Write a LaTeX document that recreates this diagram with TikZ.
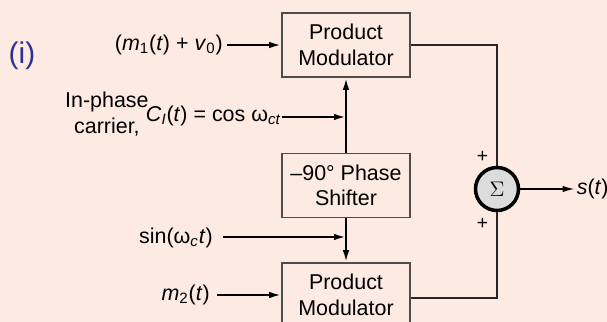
\documentclass[tikz,border=0pt]{standalone}
\usepackage{fontspec}
\setmainfont{Liberation Sans}
\usepackage{tikz}
\usetikzlibrary{arrows.meta,positioning,calc}
\usepackage{xcolor}
\definecolor{bgpink}{HTML}{FCEAE3}
\definecolor{sumgray}{HTML}{DCDCDC}
\definecolor{romblue}{HTML}{2E3192}
\tikzset{
  block/.style   = {draw=black!70, line width=0.9pt, rectangle, minimum height=1.28cm,
                    minimum width=2.56cm, align=center, inner sep=1pt},
  sumnode/.style = {draw, line width=2pt, circle, fill=sumgray, inner sep=0pt, minimum size=0.86cm},
  sig/.style     = {-{Latex[length=2.4mm,width=1.3mm]}, line width=1.2pt},
  wire/.style    = {line width=0.7pt, black!85},
  label/.style   = {inner sep=0pt},
}

\begin{document}
\begin{tikzpicture}[font=\fontsize{12.2}{14.5}\selectfont]
\useasboundingbox[fill=bgpink] (0,0) rectangle (12.14,6.44);
\node[romblue,font=\fontsize{17}{19}\selectfont] (tag) at (0.44,5.32) {(i)};
% blocks
\node[block] (modA) at (6.92,5.54) {Product\\Modulator};
\node[block] (shift) at (6.92,2.73) {–90° Phase\\Shifter};
\node[block] (modB) at (6.92,0.54) {Product\\Modulator};
\node[sumnode] (sum) at (9.94,2.66) {$\Sigma$};
% inputs
\node[label,anchor=east] (msum) at (4.46,5.54) {(\textit{m}\textsubscript{1}(\textit{t}) + \textit{v}\textsubscript{0})};
\node[label,anchor=east] (cosin) at (5.63,4.12) {\textit{C}\textsubscript{\textit{I}}(\textit{t}) = cos ω\textsubscript{\textit{ct}}};
\node[label,anchor=east,align=center] (carrier) at (2.98,4.16) {In-phase\\carrier,};
\node[label,anchor=east] (sinin) at (4.26,1.68) {sin(ω\textsubscript{\textit{c}}\textit{t})};
\node[label,anchor=east] (mtwo) at (4.2,0.54) {\textit{m}\textsubscript{2}(\textit{t})};
\node[label,anchor=west] (out) at (11.53,2.66) {\textit{s}(\textit{t})};
\coordinate (jcos) at (6.92,4.1);
\coordinate (jsin) at (6.92,1.7);
% signal paths
\draw[sig] ($(msum.east)+(0.08,0)$) -- (modA);
\draw[sig] (cosin.east |- jcos) -- (jcos);
\draw[sig] (shift) -- (modA);
\draw[sig] ($(sinin.east |- jsin)+(0.2,0)$) -- (jsin);
\draw[sig] (shift) -- (modB);
\draw[sig] ($(mtwo.east)+(0.14,0)$) -- (modB);
\draw[wire] (modA.east) -| (sum.north);
\draw[wire] ($(modB.east)+(0,-0.06)$) -| (sum.south);
\draw[sig,line width=0.9pt] (sum) -- ($(out.west)+(-0.04,0)$);
\node[font=\fontsize{11}{12}\selectfont] (pplus) at (9.65,3.3) {+};
\node[font=\fontsize{11}{12}\selectfont] (mplus) at (9.65,1.97) {+};
\end{tikzpicture}
\end{document}
